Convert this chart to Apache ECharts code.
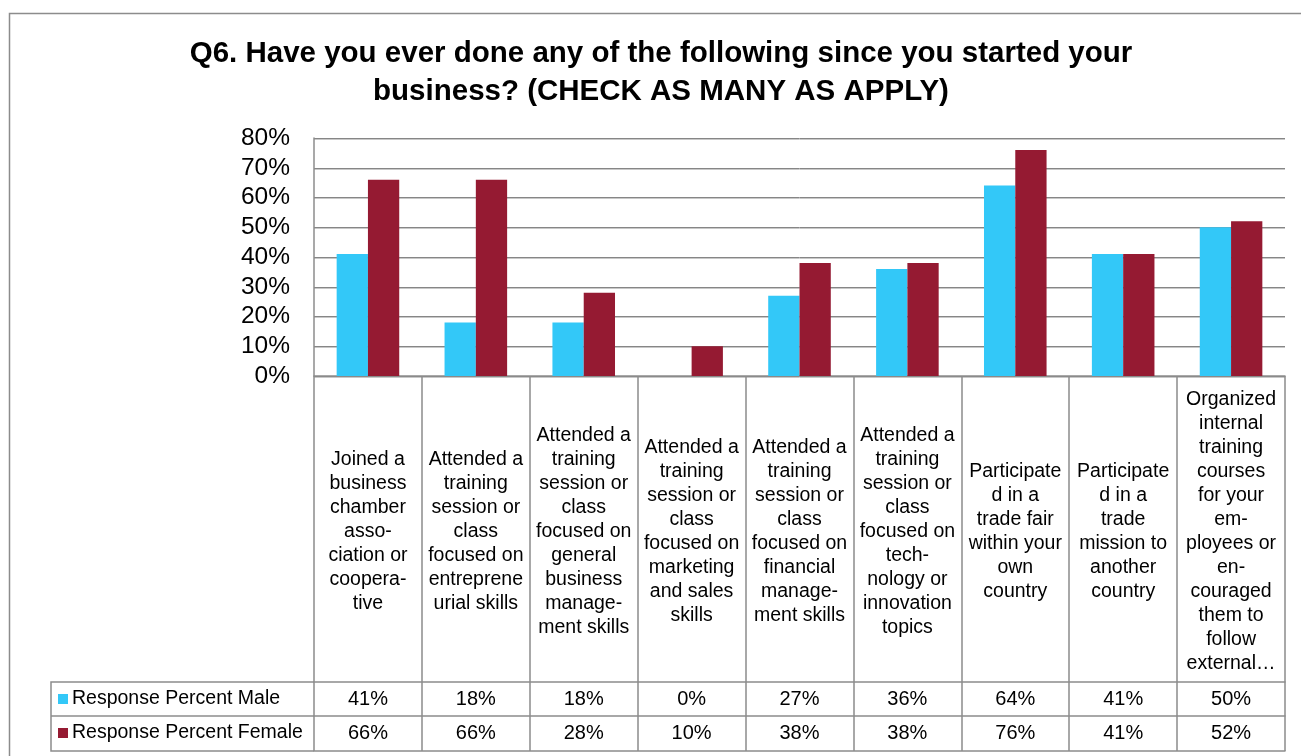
<!DOCTYPE html>
<html>
<head>
<meta charset="utf-8">
<title>Q6 survey chart</title>
<script src="https://cdn.jsdelivr.net/npm/echarts@6/dist/echarts.min.js"></script>
<style>
  html, body { margin: 0; padding: 0; background: #fff; }
  #chart { width: 1301px; height: 756px; }
</style>
</head>
<body>
<div id="chart"></div>
<script>
// Survey answers (percent of respondents), one entry per activity
const categories = [
  'Joined a\nbusiness\nchamber\nasso-\nciation or\ncoopera-\ntive',
  'Attended a\ntraining\nsession or\nclass\nfocused on\nentreprene\nurial skills',
  'Attended a\ntraining\nsession or\nclass\nfocused on\ngeneral\nbusiness\nmanage-\nment skills',
  'Attended a\ntraining\nsession or\nclass\nfocused on\nmarketing\nand sales\nskills',
  'Attended a\ntraining\nsession or\nclass\nfocused on\nfinancial\nmanage-\nment skills',
  'Attended a\ntraining\nsession or\nclass\nfocused on\ntech-\nnology or\ninnovation\ntopics',
  'Participate\nd in a\ntrade fair\nwithin your\nown\ncountry',
  'Participate\nd in a\ntrade\nmission to\nanother\ncountry',
  'Organized\ninternal\ntraining\ncourses\nfor your\nem-\nployees or\nen-\ncouraged\nthem to\nfollow\nexternal\u2026'
];
const seriesNames = ['Response Percent Male', 'Response Percent Female'];
const maleValues = [41, 18, 18, 0, 27, 36, 64, 41, 50];
const femaleValues = [66, 66, 28, 10, 38, 38, 76, 41, 52];
const yTicks = [0, 10, 20, 30, 40, 50, 60, 70, 80];

const FONT = "'Liberation Sans', Arial, sans-serif";
const LINE = '#8c8c8c';
const MALE_COLOR = '#33c8f8';
const FEMALE_COLOR = '#951a32';

// plot box and data table geometry
const plotLeft = 314, plotRight = 1285, plotTop = 138, plotBottom = 376;
const labelBand = 306;          // height of the category text band under the axis
const rowH1 = 34, rowH2 = 35;   // data table rows
const legendCellLeft = 51;
const W = 1301, H = 756;

const chart = echarts.init(document.getElementById('chart'), null, { renderer: 'canvas' });

const row1Top = plotBottom + labelBand;
const row2Top = row1Top + rowH1;
const tableBottom = row2Top + rowH2;

const tableAxisBase = {
  type: 'category',
  position: 'bottom',
  data: categories,
  axisLine: { show: true, lineStyle: { color: LINE, width: 1.5 } },
  axisTick: { show: true, interval: 0, lineStyle: { color: LINE, width: 1.5 } },
  splitLine: { show: false }
};

const option = {
  backgroundColor: '#fff',
  animation: false,
  textStyle: { fontFamily: FONT },
  title: {
    text: 'Q6. Have you ever done any of the following since you started your\nbusiness? (CHECK AS MANY AS APPLY)',
    left: 661,
    top: 35,
    padding: 0,
    textAlign: 'center',
    textStyle: {
      fontFamily: FONT,
      fontSize: 29.5,
      fontWeight: 'bold',
      color: '#000',
      lineHeight: 38
    }
  },
  legend: {
    orient: 'vertical',
    left: 58,
    top: row1Top + 7,
    padding: 0,
    itemWidth: 10,
    itemHeight: 10,
    itemGap: 14,
    icon: 'rect',
    selectedMode: false,
    data: seriesNames,
    textStyle: { fontFamily: FONT, fontSize: 19.5, color: '#000', lineHeight: 20, padding: [0, 0, 0, -1] }
  },
  grid: {
    left: plotLeft,
    right: W - plotRight,
    top: plotTop,
    bottom: H - plotBottom,
    containLabel: false
  },
  xAxis: [
    {
      // category text band
      ...tableAxisBase,
      axisTick: { show: true, interval: 0, length: labelBand, lineStyle: { color: LINE, width: 1.5 } },
      axisLabel: {
        interval: 0,
        margin: labelBand / 2 + 3,
        verticalAlign: 'middle',
        align: 'center',
        fontFamily: FONT,
        fontSize: 19.5,
        lineHeight: 24,
        color: '#000'
      }
    },
    {
      // table row: male
      ...tableAxisBase,
      offset: labelBand,
      axisTick: { show: true, interval: 0, length: rowH1, lineStyle: { color: LINE, width: 1.5 } },
      axisLabel: {
        interval: 0,
        margin: rowH1 / 2,
        verticalAlign: 'middle',
        fontFamily: FONT,
        fontSize: 20,
        color: '#000',
        formatter: (v, i) => maleValues[i] + '%'
      }
    },
    {
      // table row: female
      ...tableAxisBase,
      offset: labelBand + rowH1,
      axisTick: { show: true, interval: 0, length: rowH2, lineStyle: { color: LINE, width: 1.5 } },
      axisLabel: {
        interval: 0,
        margin: rowH2 / 2,
        verticalAlign: 'middle',
        fontFamily: FONT,
        fontSize: 20,
        color: '#000',
        formatter: (v, i) => femaleValues[i] + '%'
      }
    },
    {
      // bottom edge of the table
      ...tableAxisBase,
      offset: labelBand + rowH1 + rowH2,
      axisTick: { show: false },
      axisLabel: { show: false }
    }
  ],
  yAxis: {
    type: 'value',
    min: yTicks[0],
    max: yTicks[yTicks.length - 1],
    interval: 10,
    axisLine: { show: true, lineStyle: { color: LINE, width: 1.5 } },
    axisTick: { show: false },
    axisLabel: {
      margin: 24,
      fontFamily: FONT,
      fontSize: 24.5,
      color: '#000',
      formatter: '{value}%'
    },
    splitLine: {
      show: true,
      lineStyle: { color: '#868686', width: 1, shadowColor: '#c8c8c8', shadowOffsetY: 1, shadowBlur: 0 }
    }
  },
  series: [
    {
      name: seriesNames[0],
      type: 'bar',
      xAxisIndex: 0,
      data: maleValues,
      barGap: '0%',
      barCategoryGap: '42%',
      itemStyle: { color: MALE_COLOR }
    },
    {
      name: seriesNames[1],
      type: 'bar',
      xAxisIndex: 0,
      data: femaleValues,
      barGap: '0%',
      barCategoryGap: '42%',
      itemStyle: { color: FEMALE_COLOR }
    }
  ],
  graphic: [
    {
      // outer chart frame
      type: 'rect',
      silent: true,
      shape: { x: 9.5, y: 13.5, width: W + 20, height: H + 20 },
      style: { fill: 'none', stroke: LINE, lineWidth: 1.5 },
      z: -1
    },
    {
      // legend column of the data table
      type: 'polyline',
      silent: true,
      shape: { points: [[plotLeft, row1Top], [legendCellLeft, row1Top], [legendCellLeft, tableBottom], [plotLeft, tableBottom]] },
      style: { fill: 'none', stroke: LINE, lineWidth: 1.5 }
    },
    {
      type: 'line',
      silent: true,
      shape: { x1: legendCellLeft, y1: row2Top, x2: plotLeft, y2: row2Top },
      style: { stroke: LINE, lineWidth: 1.5 }
    }
  ]
};

chart.setOption(option);
</script>
</body>
</html>
